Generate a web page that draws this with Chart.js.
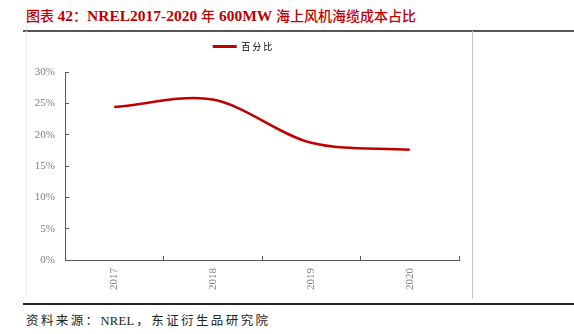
<!DOCTYPE html>
<html>
<head>
<meta charset="utf-8">
<script src="https://cdn.jsdelivr.net/npm/chart.js@4.4.1/dist/chart.umd.min.js"></script>
<style>
  html, body { margin: 0; padding: 0; background: #fff; }
  body { width: 574px; height: 334px; position: relative; overflow: hidden; }
  #title {
    position: absolute; left: 26px; top: 5px;
    font: bold 15.5px "Liberation Serif", "Noto Sans CJK SC", serif;
    color: #c00000; white-space: nowrap;
  }
  #title .cjk { font-size: 14px; font-weight: 500; }
  #topRule { position: absolute; left: 23px; top: 30px; width: 551px; height: 1.5px; background: #555; }
  #bottomRule { position: absolute; left: 23px; top: 303px; width: 551px; height: 1.5px; background: #222; }
  #frameL { position: absolute; left: 26px; top: 31px; width: 1px; height: 268px; background: #f0f0f0; }
  #frameR { position: absolute; left: 472px; top: 31px; width: 1px; height: 268px; background: #c8c8c8; }
  #source {
    position: absolute; left: 26px; top: 310px;
    font: 12.5px "Liberation Serif", "Noto Sans CJK SC", serif;
    letter-spacing: 2.4px;
    color: #222; white-space: nowrap;
  }
  #source .latin { letter-spacing: 0.3px; margin-right: 2px; }
  #wrap { position: absolute; left: 26px; top: 32px; width: 446px; height: 268px; }
</style>
</head>
<body>
<div id="title"><span class="cjk">图表 </span>42<span class="cjk">：</span>NREL2017-2020 <span class="cjk">年</span> 600MW <span class="cjk">海上风机海缆成本占比</span></div>
<div id="topRule"></div>
<div id="frameL"></div>
<div id="frameR"></div>
<div id="wrap"><canvas id="chart" width="446" height="268"></canvas></div>
<div id="bottomRule"></div>
<div id="source">资料来源：<span class="latin">NREL</span>，东证衍生品研究院</div>
<script>
// Share of subsea cable in 600MW offshore wind cost, by year
const years = ['2017', '2018', '2019', '2020'];
const cableShare = [24.4, 25.6, 18.7, 17.6];
const seriesName = '百分比';
const yTicks = [0, 5, 10, 15, 20, 25, 30];

const axisColor = '#595959';
const labelColor = '#808080';

// extra space between the legend row and the plot
const legendGap = {
  id: 'legendGap',
  afterInit(chart) {
    const fit = chart.legend.fit;
    chart.legend.fit = function () {
      fit.call(this);
      this.height += 11;
    };
  }
};

new Chart(document.getElementById('chart'), {
  type: 'line',
  data: {
    labels: years,
    datasets: [{
      label: seriesName,
      data: cableShare,
      borderColor: '#c00000',
      backgroundColor: '#c00000',
      borderWidth: 2.5,
      tension: 0.32,
      pointRadius: 0,
      fill: false
    }]
  },
  plugins: [legendGap],
  options: {
    responsive: false,
    animation: false,
    events: [],
    layout: { padding: { top: 0, right: 13, left: 0, bottom: 0 } },
    plugins: {
      tooltip: { enabled: false },
      legend: {
        display: true,
        position: 'top',
        labels: {
          boxWidth: 24,
          boxHeight: 3,
          padding: 10,
          color: '#595959',
          font: { family: '"Noto Sans CJK SC", sans-serif', size: 9 },
          generateLabels: (chart) => chart.data.datasets.map((ds, i) => ({
            text: ds.label.split('').join(' '),
            fillStyle: ds.borderColor,
            strokeStyle: ds.borderColor,
            lineWidth: 0,
            datasetIndex: i
          }))
        }
      }
    },
    scales: {
      x: {
        type: 'category',
        offset: true,
        grid: { display: true, drawOnChartArea: false, offset: true, tickLength: -4, color: axisColor },
        border: { display: true, color: axisColor, width: 1 },
        ticks: {
          color: labelColor,
          padding: 12,
          minRotation: 90,
          maxRotation: 90,
          font: { family: '"Liberation Serif", serif', size: 11 }
        },
        afterFit: (scale) => { scale.height = 40; }
      },
      y: {
        min: 0,
        max: 30,
        afterBuildTicks: (scale) => { scale.ticks = yTicks.map(v => ({ value: v })); },
        grid: { display: true, drawOnChartArea: false, tickLength: -4, color: axisColor },
        border: { display: true, color: axisColor, width: 1 },
        ticks: {
          color: labelColor,
          padding: 14,
          font: { family: '"Liberation Serif", serif', size: 11 },
          callback: (v) => v + '%'
        },
        afterFit: (scale) => { scale.width = 39; }
      }
    }
  }
});
</script>
</body>
</html>
